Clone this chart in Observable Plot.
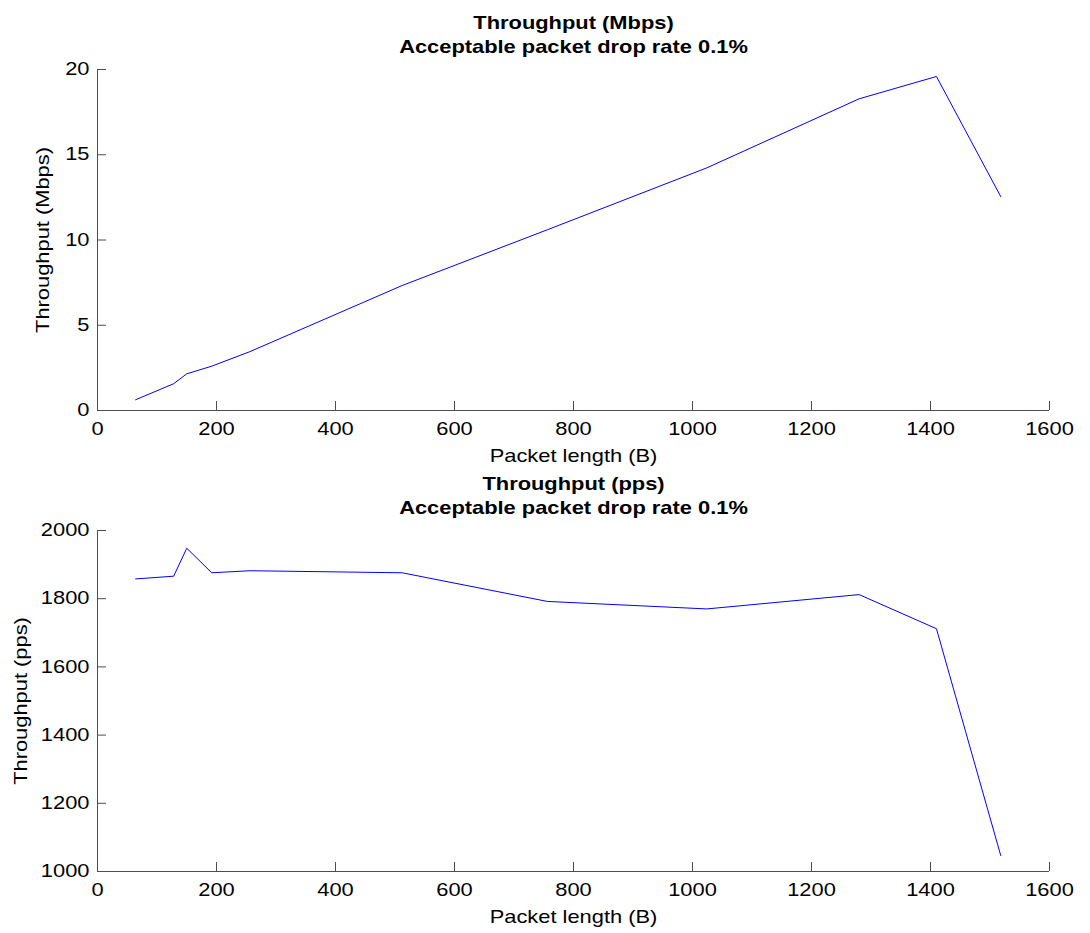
<!DOCTYPE html>
<html>
<head>
<meta charset="utf-8">
<script src="https://cdn.jsdelivr.net/npm/d3@7"></script>
<script src="https://cdn.jsdelivr.net/npm/@observablehq/plot@0.6"></script>
<style>
  html, body { margin: 0; padding: 0; background: white; }
  #chart svg { display: block; }
</style>
</head>
<body>
<div id="chart"></div>
<script>
// ---- data ----
const packetLength = [64, 128, 150, 192, 256, 512, 756, 1024, 1280, 1410, 1518];
const throughputMbps = [0.63, 1.57, 2.15, 2.6, 3.45, 7.33, 10.6, 14.23, 18.28, 19.59, 12.55];
const throughputPps = [1858, 1866, 1948, 1876, 1882, 1876, 1792, 1770, 1812, 1712, 1047];
const xTicks = [0, 200, 400, 600, 800, 1000, 1200, 1400, 1600];
const yTicksMbps = [0, 5, 10, 15, 20];
const yTicksPps = [1000, 1200, 1400, 1600, 1800, 2000];
const titleMbps = "Throughput (Mbps)\nAcceptable packet drop rate 0.1%";
const titlePps = "Throughput (pps)\nAcceptable packet drop rate 0.1%";
const xLabel = "Packet length (B)";
const yLabelMbps = "Throughput (Mbps)";
const yLabelPps = "Throughput (pps)";

const mbpsData = packetLength.map((x, i) => ({x, y: throughputMbps[i]}));
const ppsData = packetLength.map((x, i) => ({x, y: throughputPps[i]}));

const AXIS = "#4d4d4d";
const STRETCH = 1.25;
const fmt = d => String(d);

function panel({data, yDomain, yTicks, yLabel, title, height, marginTop, marginBottom, yLabelOffset}) {
  const svg = Plot.plot({
    width: 1090,
    height,
    marginLeft: 97,
    marginRight: 41,
    marginTop,
    marginBottom,
    style: {fontFamily: "'Liberation Sans', Arial, Helvetica, sans-serif", fontSize: "17.5px", color: "#000", background: "white", overflow: "visible"},
    x: {domain: [0, 1600]},
    y: {domain: yDomain},
    marks: [
      Plot.ruleX([0], {stroke: AXIS}),
      Plot.ruleY([yDomain[0]], {stroke: AXIS}),
      Plot.axisX({ticks: xTicks, tickSize: 9, text: null, label: null, dy: -9, stroke: AXIS, strokeOpacity: 1}),
      Plot.axisY({ticks: yTicks, tickSize: 9, text: null, label: null, dx: 9, stroke: AXIS, strokeOpacity: 1}),
      Plot.axisX({ticks: xTicks, tickFormat: fmt, tickSize: 0, tickPadding: 12, label: xLabel, labelAnchor: "center", labelArrow: "none", labelOffset: 51, fill: "#000"}),
      Plot.axisY({ticks: yTicks, tickFormat: fmt, tickSize: 0, tickPadding: 8, label: yLabel, labelAnchor: "center", labelArrow: "none", labelOffset: yLabelOffset, fill: "#000"}),
      Plot.line(data, {x: "x", y: "y", stroke: "#0000ff", strokeWidth: 1}),
      Plot.text([title], {frameAnchor: "top", lineAnchor: "bottom", dy: -17, fontWeight: "bold", fontSize: 17.5, lineHeight: 1.37, fill: "#000"})
    ]
  });
  // widen glyphs horizontally around their anchor to match the stretched reference rendering
  svg.querySelectorAll("text").forEach(t => {
    const tr = t.getAttribute("transform") || "";
    const x = parseFloat(t.getAttribute("x")) || 0;
    t.setAttribute("transform", `${tr} translate(${x},0) scale(${STRETCH},1) translate(${-x},0)`);
  });
  return svg;
}

const root = document.getElementById("chart");
root.appendChild(panel({
  data: mbpsData, yDomain: [0, 20], yTicks: yTicksMbps, yLabel: yLabelMbps, title: titleMbps,
  height: 466, marginTop: 69, marginBottom: 56, yLabelOffset: 61
}));
root.appendChild(panel({
  data: ppsData, yDomain: [1000, 2000], yTicks: yTicksPps, yLabel: yLabelPps, title: titlePps,
  height: 467, marginTop: 64, marginBottom: 62, yLabelOffset: 83
}));
</script>
</body>
</html>
